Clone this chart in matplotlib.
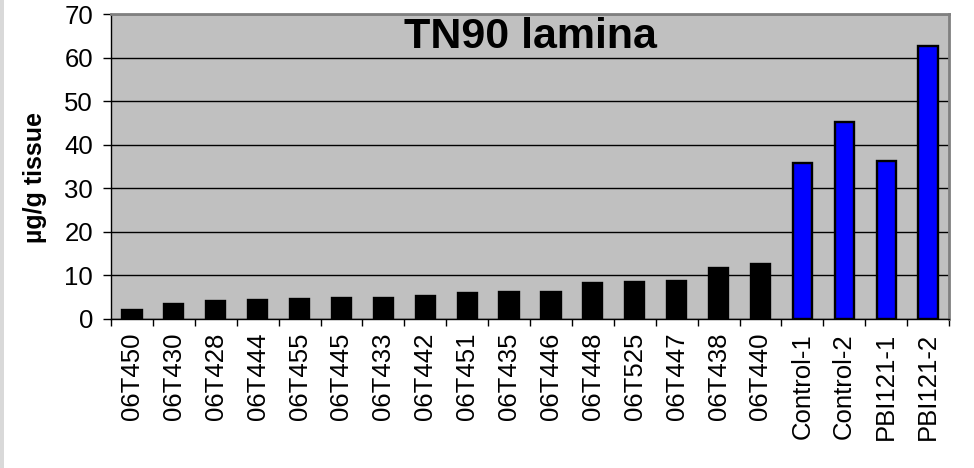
import matplotlib
matplotlib.use("Agg")
import matplotlib.pyplot as plt
from matplotlib.patches import Rectangle
import numpy as np

plt.rcParams['font.family'] = ['Liberation Sans', 'DejaVu Sans']

# Sample lines and their measured content
lines = ["06T450", "06T430", "06T428", "06T444", "06T455", "06T445", "06T433",
         "06T442", "06T451", "06T435", "06T446", "06T448", "06T525", "06T447",
         "06T438", "06T440", "Control-1", "Control-2", "PBI121-1", "PBI121-2"]
values = [2.0, 3.5, 4.2, 4.3, 4.5, 4.8, 4.8, 5.3, 6.0, 6.1, 6.3, 8.3, 8.5,
          8.8, 11.6, 12.7, 35.8, 45.2, 36.2, 62.6]
colors = ["#000000"] * 16 + ["#0000FF"] * 4

y_ticks = [0, 10, 20, 30, 40, 50, 60, 70]

fig = plt.figure(figsize=(9.74, 4.68), dpi=100)
fig.patch.set_facecolor("white")
fig.patches.append(Rectangle((0, 0), 4 / 974, 1, transform=fig.transFigure,
                             facecolor="#D9D9D9", edgecolor="none", zorder=0))

ax = fig.add_axes([111 / 974, 1 - 319 / 468, (949 - 111) / 974, (319 - 14) / 468])
ax.set_facecolor("#C0C0C0")

x = np.arange(len(lines))
ax.bar(x, values, width=0.46, color=colors, edgecolor="black", linewidth=1.7,
       zorder=3)

ax.set_xlim(-0.5, len(lines) - 0.5)
ax.set_ylim(0, 70)
ax.set_yticks(y_ticks)
ax.set_yticklabels([str(v) for v in y_ticks], fontsize=18.5)
ax.yaxis.grid(True, color="black", linewidth=1.0, zorder=1)
ax.set_axisbelow(True)

ax.set_xticks(x)
ax.set_xticklabels(lines, rotation=90, fontsize=18.5)
ax.set_xticks(np.arange(-0.5, len(lines)), minor=True)
ax.tick_params(axis="x", which="major", length=0, pad=10)
ax.tick_params(axis="x", which="minor", length=5, width=1, direction="out")
ax.tick_params(axis="y", length=6, width=1, pad=7, direction="out")

for side in ("left", "bottom"):
    ax.spines[side].set_color("black")
    ax.spines[side].set_linewidth(1.0)
for side in ("top", "right"):
    ax.spines[side].set_color("#808080")
    ax.spines[side].set_linewidth(2.0)

ax.set_ylabel("µg/g tissue", fontsize=18, fontweight="bold")
ax.yaxis.set_label_coords(-0.076, 0.465)

ax.text(0.5, 0.925, "TN90 lamina", transform=ax.transAxes, ha="center",
        va="center", fontsize=31, fontweight="bold", zorder=4)

fig.savefig("out.png", dpi=100)
